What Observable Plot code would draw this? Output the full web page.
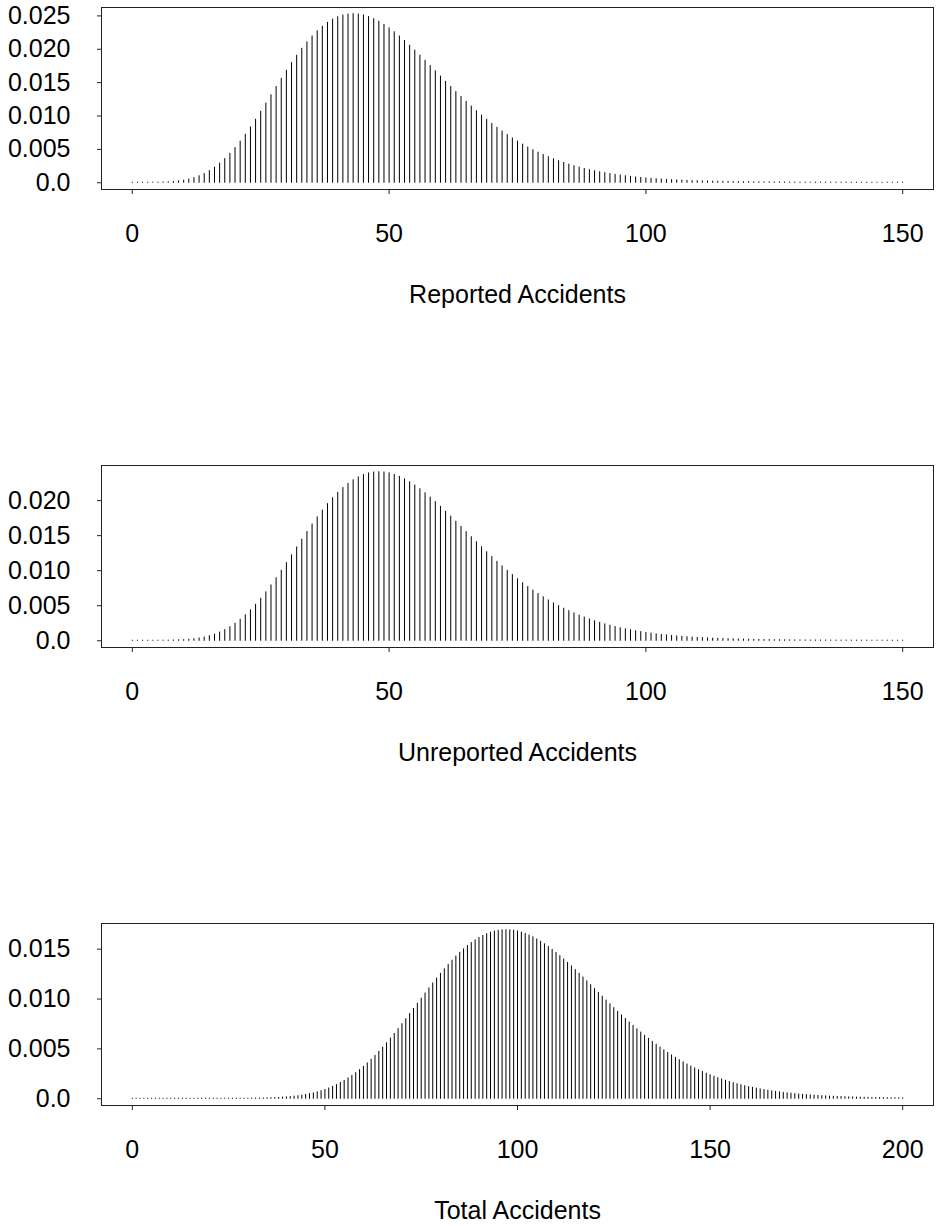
<!DOCTYPE html>
<html>
<head>
<meta charset="utf-8">
<script src="https://cdn.jsdelivr.net/npm/d3@7"></script>
<script src="https://cdn.jsdelivr.net/npm/@observablehq/plot@0.6"></script>
<style>
html, body { margin: 0; padding: 0; background: #fff; }
#wrap { position: relative; width: 937px; height: 1226px; overflow: hidden; font-family: "Liberation Sans", Arial, sans-serif; }
.panel { position: absolute; left: 0; width: 937px; }
</style>
</head>
<body>
<div id="wrap"></div>
<script>
// Probability of each count
const reported = [
  0, 0, 0.000001, 0.000003, 0.000008, 0.000017, 0.000036, 0.000068, 0.00012, 0.000199,
  0.000314, 0.000473, 0.000686, 0.000962, 0.001309, 0.001736, 0.002248, 0.002849, 0.003541, 0.004324,
  0.005195, 0.006149, 0.007179, 0.008276, 0.009429, 0.010625, 0.011851, 0.013093, 0.014336, 0.015565,
  0.016766, 0.017925, 0.019029, 0.020067, 0.021028, 0.021903, 0.022685, 0.023368, 0.023948, 0.024422,
  0.024788, 0.025047, 0.0252, 0.02525, 0.025201, 0.025057, 0.024824, 0.024507, 0.024113, 0.023649,
  0.023122, 0.022539, 0.021907, 0.021234, 0.020526, 0.01979, 0.019033, 0.01826, 0.017477, 0.01669,
  0.015903, 0.015121, 0.014348, 0.013587, 0.012841, 0.012113, 0.011405, 0.010719, 0.010057, 0.00942,
  0.008809, 0.008224, 0.007666, 0.007135, 0.006631, 0.006154, 0.005703, 0.005278, 0.004878, 0.004502,
  0.00415, 0.003821, 0.003513, 0.003227, 0.00296, 0.002712, 0.002482, 0.002269, 0.002072, 0.00189,
  0.001723, 0.001569, 0.001427, 0.001297, 0.001177, 0.001068, 0.000968, 0.000876, 0.000793, 0.000717,
  0.000647, 0.000584, 0.000527, 0.000475, 0.000428, 0.000385, 0.000346, 0.000311, 0.000279, 0.00025,
  0.000224, 0.000201, 0.00018, 0.000161, 0.000144, 0.000129, 0.000115, 0.000103, 0.000092, 0.000082,
  0.000073, 0.000065, 0.000058, 0.000052, 0.000046, 0.000041, 0.000036, 0.000032, 0.000029, 0.000026,
  0.000023, 0.00002, 0.000018, 0.000016, 0.000014, 0.000013, 0.000011, 0.00001, 0.000009, 0.000008,
  0.000007, 0.000006, 0.000005, 0.000005, 0.000004, 0.000004, 0.000003, 0.000003, 0.000003, 0.000002,
  0.000002
];

const unreported = [
  0, 0, 0, 0, 0.000001, 0.000003, 0.000007, 0.000015, 0.000029, 0.000052,
  0.000087, 0.000139, 0.000215, 0.000319, 0.000459, 0.000642, 0.000874, 0.001162, 0.001512, 0.00193,
  0.00242, 0.002984, 0.003624, 0.004339, 0.005127, 0.005985, 0.006907, 0.007886, 0.008914, 0.009981,
  0.011076, 0.012189, 0.013307, 0.014419, 0.015513, 0.016578, 0.017602, 0.018576, 0.019489, 0.020334,
  0.021103, 0.02179, 0.02239, 0.0229, 0.023317, 0.02364, 0.023869, 0.024005, 0.02405, 0.024006,
  0.023878, 0.02367, 0.023386, 0.023033, 0.022615, 0.022139, 0.021611, 0.021038, 0.020425, 0.019778,
  0.019103, 0.018406, 0.017693, 0.016968, 0.016237, 0.015503, 0.014772, 0.014046, 0.013329, 0.012624,
  0.011934, 0.011261, 0.010607, 0.009974, 0.009362, 0.008773, 0.008208, 0.007667, 0.007151, 0.00666,
  0.006193, 0.005751, 0.005333, 0.004939, 0.004567, 0.004218, 0.003891, 0.003584, 0.003298, 0.003031,
  0.002782, 0.002551, 0.002337, 0.002138, 0.001954, 0.001784, 0.001627, 0.001482, 0.001349, 0.001227,
  0.001114, 0.001011, 0.000917, 0.00083, 0.000751, 0.000679, 0.000614, 0.000554, 0.0005, 0.000451,
  0.000406, 0.000365, 0.000328, 0.000295, 0.000265, 0.000238, 0.000213, 0.000191, 0.000171, 0.000153,
  0.000137, 0.000122, 0.000109, 0.000097, 0.000087, 0.000077, 0.000069, 0.000061, 0.000055, 0.000049,
  0.000043, 0.000038, 0.000034, 0.00003, 0.000027, 0.000024, 0.000021, 0.000019, 0.000017, 0.000015,
  0.000013, 0.000012, 0.000011, 0.000009, 0.000008, 0.000007, 0.000007, 0.000006, 0.000005, 0.000005,
  0.000004
];

const total = [
  0, 0, 0, 0, 0, 0, 0, 0, 0, 0,
  0, 0, 0, 0, 0, 0, 0, 0, 0, 0,
  0, 0, 0, 0.000001, 0.000001, 0.000001, 0.000002, 0.000003, 0.000004, 0.000006,
  0.000008, 0.000012, 0.000016, 0.000022, 0.000029, 0.000038, 0.00005, 0.000065, 0.000083, 0.000106,
  0.000134, 0.000167, 0.000207, 0.000254, 0.00031, 0.000375, 0.000451, 0.000539, 0.000639, 0.000753,
  0.000882, 0.001027, 0.001189, 0.001369, 0.001568, 0.001787, 0.002026, 0.002286, 0.002567, 0.00287,
  0.003194, 0.003539, 0.003905, 0.004291, 0.004697, 0.005121, 0.005563, 0.006021, 0.006493, 0.006978,
  0.007473, 0.007977, 0.008488, 0.009003, 0.00952, 0.010036, 0.010549, 0.011056, 0.011555, 0.012044,
  0.01252, 0.012981, 0.013424, 0.013848, 0.01425, 0.014629, 0.014982, 0.015309, 0.015608, 0.015877,
  0.016116, 0.016324, 0.0165, 0.016644, 0.016756, 0.016836, 0.016884, 0.0169, 0.016884, 0.016838,
  0.016762, 0.016657, 0.016524, 0.016365, 0.01618, 0.015971, 0.01574, 0.015487, 0.015215, 0.014925,
  0.014619, 0.014298, 0.013964, 0.013618, 0.013262, 0.012897, 0.012525, 0.012148, 0.011767, 0.011383,
  0.010997, 0.010611, 0.010226, 0.009843, 0.009463, 0.009087, 0.008716, 0.00835, 0.007991, 0.007638,
  0.007293, 0.006956, 0.006628, 0.006308, 0.005998, 0.005697, 0.005405, 0.005124, 0.004852, 0.00459,
  0.004339, 0.004097, 0.003865, 0.003643, 0.00343, 0.003227, 0.003033, 0.002849, 0.002673, 0.002506,
  0.002348, 0.002198, 0.002056, 0.001921, 0.001794, 0.001674, 0.00156, 0.001454, 0.001353, 0.001259,
  0.00117, 0.001087, 0.001009, 0.000936, 0.000867, 0.000803, 0.000743, 0.000687, 0.000635, 0.000587,
  0.000542, 0.0005, 0.000461, 0.000425, 0.000391, 0.00036, 0.000331, 0.000304, 0.000279, 0.000256,
  0.000235, 0.000215, 0.000197, 0.00018, 0.000165, 0.000151, 0.000138, 0.000126, 0.000115, 0.000105,
  0.000096, 0.000088, 0.00008, 0.000073, 0.000066, 0.00006, 0.000055, 0.00005, 0.000045, 0.000041,
  0.000038
];

// Axis ticks and labels
const xTicksPart = [0, 50, 100, 150];
const xTicksTotal = [0, 50, 100, 150, 200];
const yTicksReported = [0, 0.005, 0.01, 0.015, 0.02, 0.025];
const yLabelsReported = ["0.0", "0.005", "0.010", "0.015", "0.020", "0.025"];
const yTicksUnreported = [0, 0.005, 0.01, 0.015, 0.02];
const yLabelsUnreported = ["0.0", "0.005", "0.010", "0.015", "0.020"];
const yTicksTotal = [0, 0.005, 0.01, 0.015];
const yLabelsTotal = ["0.0", "0.005", "0.010", "0.015"];
const axisTitles = ["Reported Accidents", "Unreported Accidents", "Total Accidents"];

const FONT = '"Liberation Sans", Arial, Helvetica, sans-serif';

function panel(values, xTicks, yTicks, yLabels, title, top) {
  const rows = values.map((p, k) => ({k, p}));
  const n = values.length - 1;
  const pad = n * 0.04;
  const M = d3.max(values);
  const chart = Plot.plot({
    width: 937,
    height: 310,
    marginTop: 7,
    marginBottom: 121,
    marginLeft: 101,
    marginRight: 4,
    style: {fontFamily: FONT, fontSize: "25px", color: "#000", background: "transparent", overflow: "visible"},
    x: {domain: [-pad, n + pad]},
    y: {domain: [-0.04 * M, 1.04 * M]},
    marks: [
      Plot.ruleX(rows, {x: "k", y1: 0, y2: "p", stroke: "#000", strokeWidth: 1, strokeLinecap: "square"}),
      Plot.frame({stroke: "#222", strokeWidth: 1}),
      Plot.axisX({
        ticks: xTicks, tickSize: 5, tickPadding: 30, tickFormat: d => String(d),
        label: title, labelAnchor: "center", labelOffset: 113, labelArrow: "none",
        fontSize: 25, stroke: "#222"
      }),
      Plot.axisY({
        ticks: yTicks, tickSize: 4, tickPadding: 27,
        tickFormat: d => yLabels[yTicks.indexOf(d)],
        label: null, fontSize: 25, stroke: "#222"
      })
    ]
  });
  const holder = document.createElement("div");
  holder.className = "panel";
  holder.style.top = top + "px";
  holder.appendChild(chart);
  document.getElementById("wrap").appendChild(holder);
}

panel(reported, xTicksPart, yTicksReported, yLabelsReported, axisTitles[0], 0);
panel(unreported, xTicksPart, yTicksUnreported, yLabelsUnreported, axisTitles[1], 458);
panel(total, xTicksTotal, yTicksTotal, yLabelsTotal, axisTitles[2], 916);
</script>
</body>
</html>
